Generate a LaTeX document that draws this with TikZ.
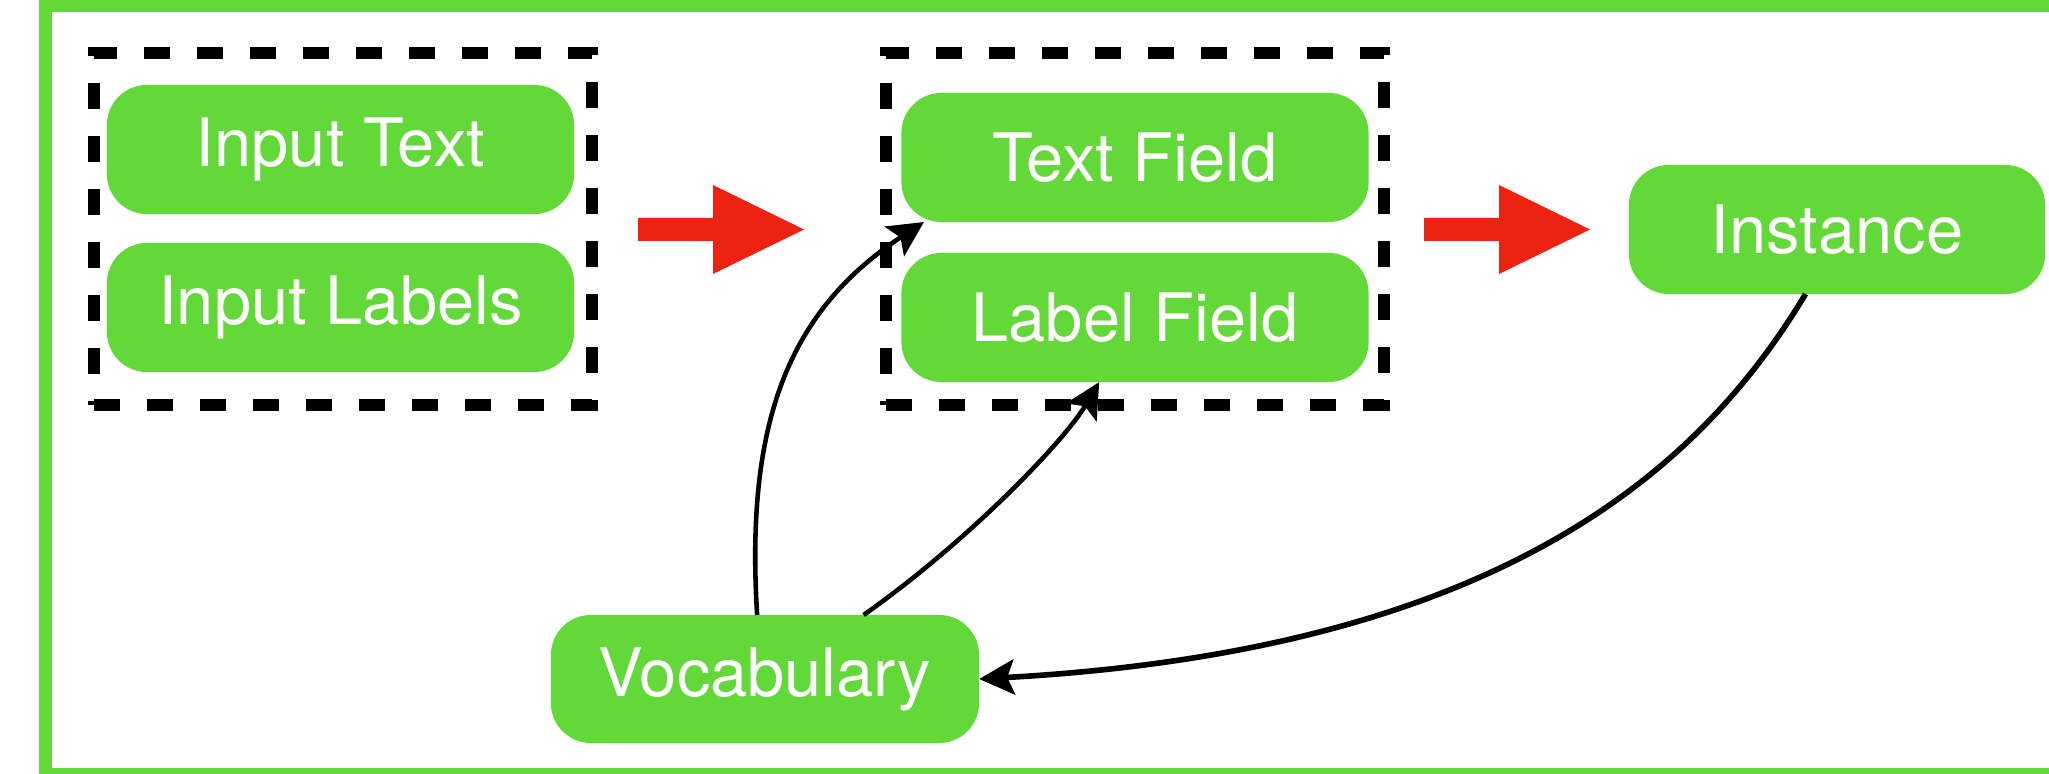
\documentclass[tikz,border=0pt]{standalone}
\usepackage{fontspec}
\setmainfont{TeX Gyre Heros}
\usepackage{tikz}
\usetikzlibrary{positioning}
\usetikzlibrary{arrows.meta}
\definecolor{fieldgreen}{RGB}{99,217,57}
\definecolor{arrowred}{RGB}{238,34,16}
\tikzset{field/.style={fill=fieldgreen,rounded corners=0.4cm,minimum width=4.67cm,minimum height=1.29cm,text=white,font=\fontsize{19}{21}\selectfont,inner sep=0pt,outer sep=0pt}}
\tikzset{group/.style={draw=black,line width=0.12cm,dash pattern=on 0.26cm off 0.27cm,minimum width=4.98cm,minimum height=3.52cm,outer sep=0pt}}
\tikzset{link/.style={draw=black,line width=1.3pt,-{Stealth[length=10pt,width=10pt,inset=2pt]}}}
\tikzset{bigarrow/.style={fill=arrowred}}
\tikzset{frame/.style={draw=fieldgreen,line width=0.13cm}}

\begin{document}
\begin{tikzpicture}[x=0.01cm,y=-0.01cm]
		\clip (0,0) rectangle (2049,774);
		\draw[frame] (45.5,6) rectangle (2200,774.5);

		\node[group](inbox) at (343,229){};
		\node[group](fieldbox) at (1135,229){};

		\node[field](intext) at (340.5,149.5){Input Text};
		\node[field](inlabels) at (340.5,307.5){Input Labels};

		\node[field](textfield) at (1135,157.5){Text Field};
		\node[field](labelfield) at (1135,317.5){Label Field};

		\node[field,minimum width=4.16cm](instance) at (1837,229.5){Instance};
		\node[field,minimum width=4.28cm,minimum height=1.28cm](vocab) at (765,679){Vocabulary};

		% big red arrows between the stages
		\fill[bigarrow] (638,218) -- (713,218) -- (713,185) -- (804,229.5) -- (713,274) -- (713,241) -- (638,241) -- cycle;
		\fill[bigarrow] (1424,218) -- (1499,218) -- (1499,185) -- (1590,229.5) -- (1499,274) -- (1499,241) -- (1424,241) -- cycle;

		\draw[link] (vocab.97) .. controls (745,420) and (790,310) .. (textfield.197);
		\draw[link] (vocab.33) .. controls (970,540) and (1065,440) .. (labelfield.241);
		\draw[link,line width=1.6pt] (instance.244) .. controls (1700,470) and (1500,650) .. (vocab.east);
	\end{tikzpicture}
\end{document}
